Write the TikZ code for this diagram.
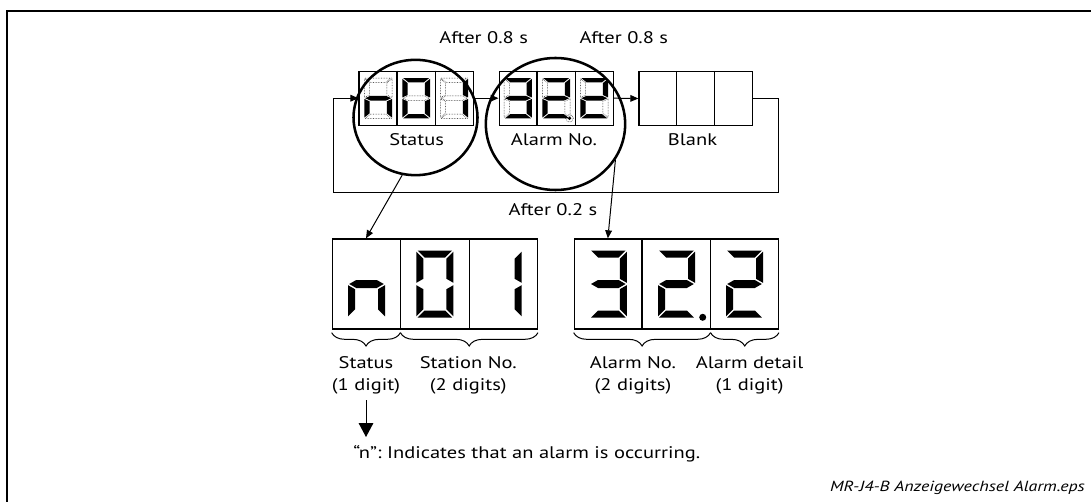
\documentclass[tikz,border=0pt]{standalone}
\usepackage{fontspec}
\setmainfont[FakeStretch=1.22]{PT Sans}
\usetikzlibrary{arrows.meta,shapes.geometric,decorations.pathreplacing,calc}
% seven-segment shapes (digit 37 x 67, centred)
\def\sga{(-17.3,-33.5) -- (17.3,-33.5) -- (10.3,-26.5) -- (-10.3,-26.5) -- cycle}
\def\sgb{(18.5,-32.3) -- (18.5,-1.2) -- (11.5,-5.2) -- (11.5,-25.3) -- cycle}
\def\sgc{(18.5,1.2) -- (18.5,32.3) -- (11.5,25.3) -- (11.5,5.2) -- cycle}
\def\sgd{(-17.3,33.5) -- (17.3,33.5) -- (10.3,26.5) -- (-10.3,26.5) -- cycle}
\def\sge{(-18.5,1.2) -- (-18.5,32.3) -- (-11.5,25.3) -- (-11.5,5.2) -- cycle}
\def\sgf{(-18.5,-32.3) -- (-18.5,-1.2) -- (-11.5,-5.2) -- (-11.5,-25.3) -- cycle}
\def\sgg{(-17.3,0) -- (-10.3,-4) -- (10.3,-4) -- (17.3,0) -- (10.3,4) -- (-10.3,4) -- cycle}
\def\sgnone{(0,0)}
\newcommand\segdigit[5]{\begin{scope}[shift={(#1,#2)},#3]
\foreach \s in {#4}{\fill[black] \csname sg\s\endcsname;}
\foreach \s in {#5}{\draw[unlitseg] \csname sg\s\endcsname;}
\end{scope}}
\begin{document}
\begin{tikzpicture}[x=0.75pt,y=-0.75pt,
  boxline/.style={line width=1pt},
  dispbox/.style={draw, line width=1pt, inner sep=0pt, minimum width=#1},
  small/.style={minimum height=40.5pt},
  big/.style={minimum height=67.5pt},
  thinline/.style={line width=0.75pt},
  lens/.style={draw, ellipse, line width=1.9pt, inner sep=0pt},
  tip/.style={-{Triangle[length=6pt,width=5pt]}},
  unlitseg/.style={line width=0.35pt, dash pattern=on 0.45pt off 0.75pt},
  lbl/.style={font=\fontsize{12.6}{17}\selectfont, inner sep=0pt, align=center},
  bracestyle/.style={decorate, decoration={brace, mirror, amplitude=10pt}, line width=0.75pt}]
\useasboundingbox (0,0) rectangle (1091,502);
% frame
\draw[line width=1.1pt] (7,502) -- (7,11) -- (1091,11);

% ---------- top small displays ----------
\node[dispbox=85.7pt, small] (s1) at (416.2,98.2) {};
\node[dispbox=85.5pt, small] (s2) at (556.2,98.2) {};
\node[dispbox=85pt, small] (blank) at (695.7,98.5) {};
\foreach \n in {s1,s2,blank}{
  \foreach \f in {1,2}{
    \draw[boxline] ($(\n.north west)!\f/3!(\n.north east)$) -- ($(\n.south west)!\f/3!(\n.south east)$);}}
% small digits
\segdigit{378.2}{98.2}{xscale=0.75,yscale=0.6}{e,c,g}{a,b,d,f}
\segdigit{416.2}{98.2}{xscale=0.75,yscale=0.6}{a,b,c,d,e,f}{g}
\segdigit{454.2}{98.2}{xscale=0.75,yscale=0.6}{b,c}{a,d,e,f,g}
\segdigit{518}{98.2}{xscale=0.75,yscale=0.6}{a,b,c,d,g}{e,f}
\segdigit{556.2}{98.2}{xscale=0.75,yscale=0.6}{a,b,g,e,d}{c,f}
\segdigit{594.3}{98.2}{xscale=0.75,yscale=0.6}{a,b,g,e,d}{c,f}
\fill (569.5,118.3) circle (1.8);
\draw[unlitseg] (569.5,118.3) circle (3.8);

\node[lbl] (lst) at (416.7,140) {Status};
\node[lbl] (lal) at (554,140) {Alarm No.};
\node[lbl] (lbk) at (692.5,140) {Blank};
\node[lbl] (t1) at (483.7,38) {After 0.8 s};
\node[lbl] (t2) at (623.8,38) {After 0.8 s};

% arrows between displays
\draw[thinline, tip] (s1.east) -- (s2.west);
\draw[thinline, tip] (s2.east) -- (blank.west);
% return loop
\coordinate (r1) at (778.7,98.5);
\coordinate (r2) at (778.7,192.7);
\coordinate (r3) at (333,192.7);
\coordinate (r4) at (333,98.2);
\draw[thinline, tip] (blank.east) -- (r1) -- (r2) -- (r3) -- (r4) -- (s1.west);
\node[lbl] (t3) at (553,210) {After 0.2 s};

% lenses
\node[lens, minimum width=93pt, minimum height=86.5pt] (c1) at (415.5,117.5) {};
\node[lens, minimum width=104.5pt, minimum height=99pt] (c2) at (555.5,124) {};

% ---------- big displays ----------
\node[dispbox=153.75pt, big] (bigA) at (434.8,284) {};
\node[dispbox=153pt, big] (bigB) at (676.3,284) {};
\foreach \n in {bigA,bigB}{
  \foreach \f in {1,2}{
    \draw[boxline] ($(\n.north west)!\f/3!(\n.north east)$) -- ($(\n.south west)!\f/3!(\n.south east)$);}}
\segdigit{366.5}{284}{}{e,c,g}{none}
\segdigit{434.9}{284}{}{a,b,c,d,e,f}{none}
\segdigit{503.2}{284}{}{b,c}{none}
\segdigit{608.3}{284}{}{a,b,c,d,g}{none}
\segdigit{676.5}{284}{}{a,b,g,e,d}{none}
\segdigit{744.5}{284}{}{a,b,g,e,d}{none}
\fill (702.7,317.3) circle (3.5);

% leader arrows
\coordinate (ea) at ($(bigA.north west)!1/6!(bigA.north east)$);
\coordinate (eb) at ($(bigB.north west)!1/6!(bigB.north east)$);
\draw[thinline, tip] (c1.-103) -- (ea);
\draw[thinline, tip] (c2.-31) -- (eb);

% braces
\coordinate (ba0) at ($(bigA.south west)+(0,3)$);
\coordinate (ba1) at ($(bigA.south west)!1/3!(bigA.south east)+(0,3)$);
\coordinate (ba2) at ($(bigA.south east)+(0,3)$);
\coordinate (bb0) at ($(bigB.south west)+(0,3)$);
\coordinate (bb1) at ($(bigB.south west)!2/3!(bigB.south east)+(0,3)$);
\coordinate (bb2) at ($(bigB.south east)+(0,3)$);
\draw[bracestyle] (ba0) -- (ba1);
\draw[bracestyle] (ba1) -- (ba2);
\draw[bracestyle] (bb0) -- (bb1);
\draw[bracestyle] (bb1) -- (bb2);

\node[lbl] (ls) at (366,375.5) {Status\\(1 digit)};
\node[lbl] (lsn) at (468.3,375.5) {Station No.\\(2 digits)};
\node[lbl] (lan) at (633,375.5) {Alarm No.\\(2 digits)};
\node[lbl] (lad) at (749.6,375.5) {Alarm detail\\(1 digit)};

\coordinate (dn) at (366,437);
\draw[thinline, -{Triangle[length=10.5pt,width=11pt]}] (366,400) -- (dn);
\node[lbl, anchor=west] (note) at (353,453.3) {“n”:\ Indicates that an alarm is occurring.};

\node[font=\itshape\fontsize{11}{12}\selectfont, anchor=east, inner sep=0pt] (foot) at (1085,488) {MR-J4-B Anzeigewechsel Alarm.eps};
\end{tikzpicture}
\end{document}
